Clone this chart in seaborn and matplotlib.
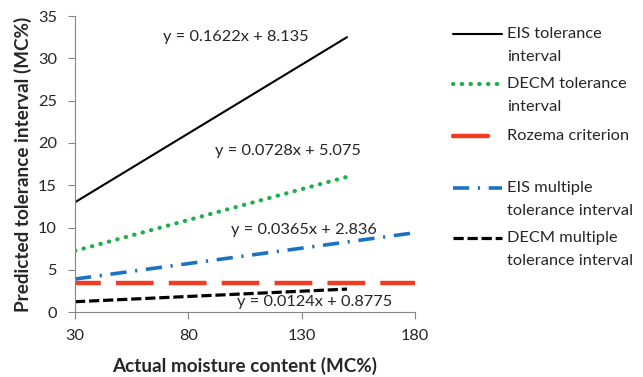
import matplotlib
matplotlib.use("Agg")
import matplotlib.pyplot as plt
import seaborn as sns
import pandas as pd
from matplotlib.lines import Line2D

# ---- data ----
x_eis = [30, 150]
y_eis = [13.0, 32.5]
x_decm = [30, 150]
y_decm = [7.26, 16.0]
x_roz = [30, 180]
y_roz = [3.5, 3.5]
x_eis_m = [30, 180]
y_eis_m = [3.93, 9.4]
x_decm_m = [30, 150]
y_decm_m = [1.25, 2.74]

labels = [["EIS tolerance", "interval"], ["DECM tolerance", "interval"], ["Rozema criterion"],
          ["EIS multiple", "tolerance interval"], ["DECM multiple", "tolerance interval"]]
equations = ["y = 0.1622x + 8.135", "y = 0.0728x + 5.075",
             "y = 0.0365x + 2.836", "y = 0.0124x + 0.8775"]
eq_pos_x = [68.8, 91.8, 98.7, 101.6]
eq_pos_y = [32.5, 19.1, 9.7, 1.18]
x_ticks = [30, 80, 130, 180]
y_ticks = [0, 5, 10, 15, 20, 25, 30, 35]

sns.set_theme(style="white")
plt.rcParams['font.family'] = ['Lato', 'DejaVu Sans']

W, H = 643, 377
fig = plt.figure(figsize=(W / 100, H / 100), dpi=100)
ax = fig.add_axes([75 / W, 1 - 312.3 / H, 340 / W, 296.3 / H])

TXT = "#262626"
styles = [
    dict(color="black", linewidth=1.5, linestyle="-"),
    dict(color="#1fae4a", linewidth=3.0, linestyle=(0, (0.1, 2.0)), dash_capstyle="round"),
    dict(color="#ee3d22", linewidth=3.2, linestyle=(2.7, (8.5, 3.4))),
    dict(color="#1a73c2", linewidth=2.6, linestyle=(0, (4.5, 2.4, 0.6, 2.4))),
    dict(color="black", linewidth=2.3, linestyle=(0, (3.2, 1.2))),
]
series = [(x_eis, y_eis), (x_decm, y_decm), (x_roz, y_roz), (x_eis_m, y_eis_m), (x_decm_m, y_decm_m)]

for (xs, ys), st in zip(series, styles):
    df = pd.DataFrame({"x": xs, "y": ys})
    sns.lineplot(data=df, x="x", y="y", ax=ax, legend=False, **st)

for t, ex, ey in zip(equations, eq_pos_x, eq_pos_y):
    ax.text(ex, ey, t, ha="left", va="center", fontsize=11.8, color=TXT)

ax.set_xlim(30, 180)
ax.set_ylim(0, 35)
ax.set_xticks(x_ticks)
ax.set_yticks(y_ticks)
ax.tick_params(axis="both", labelsize=11.8, colors="#868686", length=5, width=0.8,
               direction="out", bottom=True, left=True)
ax.tick_params(axis="y", pad=8)
ax.tick_params(axis="x", pad=7)
for lbl in ax.get_xticklabels() + ax.get_yticklabels():
    lbl.set_color(TXT)
for s in ["top", "right"]:
    ax.spines[s].set_visible(False)
for s in ["left", "bottom"]:
    ax.spines[s].set_color("#868686")
    ax.spines[s].set_linewidth(0.8)

ax.set_xlabel("Actual moisture content (MC%)", fontsize=13.6, fontweight="bold", color=TXT, labelpad=10)
ax.set_ylabel("Predicted tolerance interval (MC%)", fontsize=13.6, fontweight="bold", color=TXT, labelpad=4)

# ---- legend drawn manually (Excel style: handle aligned to first text line) ----
leg_styles = [
    dict(color="black", linewidth=1.5, linestyle="-"),
    dict(color="#1fae4a", linewidth=3.0, linestyle=(0, (0.1, 2.0)), dash_capstyle="round"),
    dict(color="#ee3d22", linewidth=3.2, linestyle="-"),
    dict(color="#1a73c2", linewidth=2.6, linestyle=(0, (4.5, 2.4, 0.6, 2.4))),
    dict(color="black", linewidth=2.3, linestyle=(0, (3.2, 1.2))),
]
entry_y = [34, 84, 136, 188, 238]
handle_x = [(453, 502), (453, 502), (453, 488), (453, 502), (453, 502)]
for lab, st, yy, (hx0, hx1) in zip(labels, leg_styles, entry_y, handle_x):
    fig.add_artist(Line2D([hx0 / W, hx1 / W], [1 - yy / H, 1 - yy / H],
                          transform=fig.transFigure, **st))
    for k, line in enumerate(lab):
        fig.text(507 / W, 1 - (yy + 23 * k) / H, line, ha="left", va="center",
                 fontsize=11.8, color=TXT)

fig.savefig("out.png", dpi=100)
